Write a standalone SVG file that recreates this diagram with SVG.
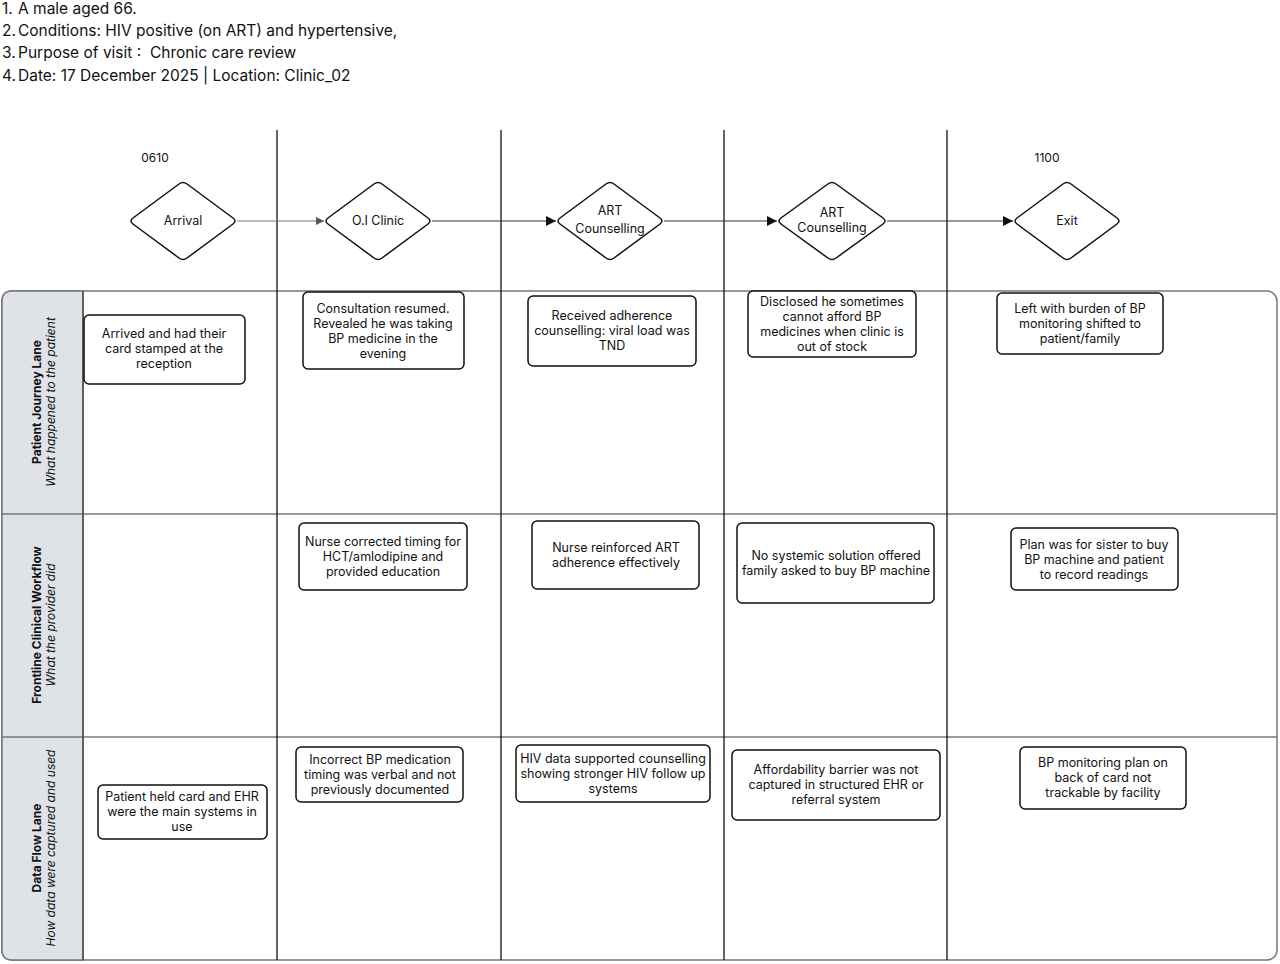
<svg xmlns="http://www.w3.org/2000/svg" width="1280" height="964" viewBox="0 0 1280 964">
<defs>
<style>
text{font-family:Inter,"Noto Sans","Liberation Sans",sans-serif;fill:#111}
.hd{font-size:15.5px}
.t{font-size:12.5px;text-anchor:middle}
.box{fill:#fff;stroke:#111;stroke-width:1.5}
.dia{fill:#fff;stroke:#111;stroke-width:1.5;stroke-linejoin:round}
.vl{stroke:#111;stroke-width:1.3}
.lb{font-size:12px;font-weight:bold;text-anchor:middle}
.li{font-size:12px;font-style:italic;text-anchor:middle}
.con{stroke:#333;stroke-width:1;fill:none}
</style>
<path id="dshape" d="M4,-37 L50,-3 Q54,0 50,3 L4,37 Q0,40 -4,37 L-50,3 Q-54,0 -50,-3 L-4,-37 Q0,-40 4,-37 Z"/>
<marker id="ah" viewBox="0 0 10 10" refX="10" refY="5" markerWidth="10" markerHeight="10" markerUnits="userSpaceOnUse" orient="auto"><path d="M0,0 L10,5 L0,10 z" fill="#111"/></marker>
<marker id="ahs" viewBox="0 0 10 10" refX="10" refY="5" markerWidth="9" markerHeight="8" markerUnits="userSpaceOnUse" orient="auto"><path d="M0,0 L10,5 L0,10 z" fill="#555"/></marker>
</defs>
<rect width="1280" height="964" fill="#fff"/>
<g id="header">
<text class="hd" y="14"><tspan x="2">1.</tspan><tspan x="18">A male aged 66.</tspan></text>
<text class="hd" y="36"><tspan x="2">2.</tspan><tspan x="18">Conditions: HIV positive (on ART) and hypertensive,</tspan></text>
<text class="hd" y="58" xml:space="preserve"><tspan x="2">3.</tspan><tspan x="18">Purpose of visit :  Chronic care review</tspan></text>
<text class="hd" y="81"><tspan x="2">4.</tspan><tspan x="18">Date: 17 December 2025 | Location: Clinic_02</tspan></text>
</g>
<g id="lanes">
<rect x="2" y="291" width="1275" height="669" rx="10" fill="#fff" stroke="#777" stroke-width="1.5"/>
<path d="M2,301 Q2,291 12,291 L83,291 L83,960 L12,960 Q2,960 2,950 Z" fill="#dfe2e7" stroke="#777" stroke-width="1.5"/>
<line x1="2" y1="514" x2="1277" y2="514" stroke="#777" stroke-width="1.5"/>
<line x1="2" y1="737" x2="1277" y2="737" stroke="#777" stroke-width="1.5"/>
<line x1="83" y1="291" x2="83" y2="960" stroke="#444" stroke-width="1.3"/>
<line class="vl" x1="277" y1="130" x2="277" y2="960"/>
<line class="vl" x1="501" y1="130" x2="501" y2="960"/>
<line class="vl" x1="724" y1="130" x2="724" y2="960"/>
<line class="vl" x1="947" y1="130" x2="947" y2="960"/>
<g id="lane-patient">
<text class="lb" transform="translate(41,402) rotate(-90)">Patient Journey Lane</text>
<text class="li" transform="translate(55,402) rotate(-90)">What happened to the patient</text>
</g>
<g id="lane-clinical">
<text class="lb" transform="translate(41,625) rotate(-90)">Frontline Clinical Workflow</text>
<text class="li" transform="translate(55,625) rotate(-90)">What the provider did</text>
</g>
<g id="lane-data">
<text class="lb" transform="translate(41,848) rotate(-90)">Data Flow Lane</text>
<text class="li" transform="translate(55,848) rotate(-90)">How data were captured and used</text>
</g>
</g>
<g id="connectors">
<line x1="237" y1="221" x2="324" y2="221" stroke="#777" stroke-width="1" marker-end="url(#ahs)"/>
<line class="con" x1="432" y1="221" x2="556" y2="221" marker-end="url(#ah)"/>
<line class="con" x1="664" y1="221" x2="777" y2="221" marker-end="url(#ah)"/>
<line class="con" x1="887" y1="221" x2="1013" y2="221" marker-end="url(#ah)"/>
</g>
<g id="times">
<text class="t" x="155" y="162" style="font-size:12px">0610</text>
<text class="t" x="1047" y="162" style="font-size:12px">1100</text>
</g>
<g id="arrival"><use href="#dshape" class="dia" transform="translate(183,221)"/><text class="t" x="183" y="225">Arrival</text></g>
<g id="oi-clinic"><use href="#dshape" class="dia" transform="translate(378,221)"/><text class="t" x="378" y="225">O.I Clinic</text></g>
<g id="art1"><use href="#dshape" class="dia" transform="translate(610,221)"/><text class="t" x="610" y="215">ART</text><text class="t" x="610" y="233">Counselling</text></g>
<g id="art2"><use href="#dshape" class="dia" transform="translate(832,221) scale(1.02,1)"/><text class="t" x="832" y="217">ART</text><text class="t" x="832" y="232">Counselling</text></g>
<g id="exit"><use href="#dshape" class="dia" transform="translate(1067,221)"/><text class="t" x="1067" y="225">Exit</text></g>

<g id="p1"><rect class="box" x="84" y="315" width="161" height="69" rx="5"/><text class="t" x="164" y="338">Arrived and had their</text><text class="t" x="164" y="353">card stamped at the</text><text class="t" x="164" y="368">reception</text></g>
<g id="p2"><rect class="box" x="303" y="292" width="161" height="77" rx="5"/><text class="t" x="383" y="313">Consultation resumed.</text><text class="t" x="383" y="328">Revealed he was taking</text><text class="t" x="383" y="343">BP medicine in the</text><text class="t" x="383" y="358">evening</text></g>
<g id="p3"><rect class="box" x="528" y="296" width="168" height="70" rx="5"/><text class="t" x="612" y="320">Received adherence</text><text class="t" x="612" y="335">counselling: viral load was</text><text class="t" x="612" y="350">TND</text></g>
<g id="p4"><rect class="box" x="748" y="291" width="168" height="66" rx="5"/><text class="t" x="832" y="306">Disclosed he sometimes</text><text class="t" x="832" y="321">cannot afford BP</text><text class="t" x="832" y="336">medicines when clinic is</text><text class="t" x="832" y="351">out of stock</text></g>
<g id="p5"><rect class="box" x="997" y="293" width="166" height="61" rx="5"/><text class="t" x="1080" y="313">Left with burden of BP</text><text class="t" x="1080" y="328">monitoring shifted to</text><text class="t" x="1080" y="343">patient/family</text></g>

<g id="c2"><rect class="box" x="299" y="523" width="168" height="67" rx="5"/><text class="t" x="383" y="546">Nurse corrected timing for</text><text class="t" x="383" y="561">HCT/amlodipine and</text><text class="t" x="383" y="576">provided education</text></g>
<g id="c3"><rect class="box" x="532" y="521" width="167" height="68" rx="5"/><text class="t" x="616" y="552">Nurse reinforced ART</text><text class="t" x="616" y="567">adherence effectively</text></g>
<g id="c4"><rect class="box" x="737" y="523" width="197" height="80" rx="5"/><text class="t" x="836" y="560">No systemic solution offered</text><text class="t" x="836" y="575">family asked to buy BP machine</text></g>
<g id="c5"><rect class="box" x="1011" y="528" width="167" height="62" rx="5"/><text class="t" x="1094" y="549">Plan was for sister to buy</text><text class="t" x="1094" y="564">BP machine and patient</text><text class="t" x="1094" y="579">to record readings</text></g>

<g id="d1"><rect class="box" x="98" y="785" width="169" height="54" rx="5"/><text class="t" x="182" y="801">Patient held card and EHR</text><text class="t" x="182" y="816">were the main systems in</text><text class="t" x="182" y="831">use</text></g>
<g id="d2"><rect class="box" x="296" y="747" width="167" height="55" rx="5"/><text class="t" x="380" y="764">Incorrect BP medication</text><text class="t" x="380" y="779">timing was verbal and not</text><text class="t" x="380" y="794">previously documented</text></g>
<g id="d3"><rect class="box" x="516" y="745" width="194" height="57" rx="5"/><text class="t" x="613" y="763">HIV data supported counselling</text><text class="t" x="613" y="778">showing stronger HIV follow up</text><text class="t" x="613" y="793">systems</text></g>
<g id="d4"><rect class="box" x="732" y="750" width="208" height="70" rx="5"/><text class="t" x="836" y="774">Affordability barrier was not</text><text class="t" x="836" y="789">captured in structured EHR or</text><text class="t" x="836" y="804">referral system</text></g>
<g id="d5"><rect class="box" x="1020" y="747" width="166" height="62" rx="5"/><text class="t" x="1103" y="767">BP monitoring plan on</text><text class="t" x="1103" y="782">back of card not</text><text class="t" x="1103" y="797">trackable by facility</text></g>
</svg>
